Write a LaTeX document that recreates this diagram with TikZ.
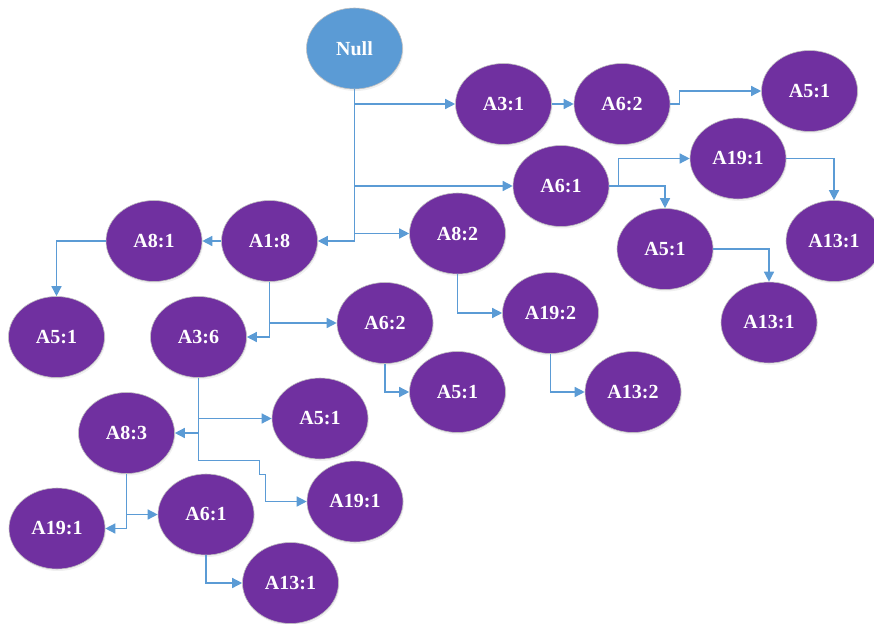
\documentclass[tikz,border=0pt]{standalone}
\usepackage{fontspec}
\setmainfont{Liberation Serif}
\usetikzlibrary{arrows.meta,shadows,shapes.geometric}

\definecolor{rootblue}{HTML}{5B9BD5}
\definecolor{itempurple}{HTML}{7030A0}

\begin{document}
\begin{tikzpicture}[x=1pt,y=-1pt]
        \tikzstyle{every node} = [ellipse, draw=black!25, line width=0.6pt, fill=itempurple, text=white,
            minimum width=96pt, minimum height=81pt, inner sep=0pt,
            font=\bfseries\fontsize{20}{24}\selectfont,
            drop shadow={opacity=0.12, shadow xshift=1pt, shadow yshift=-2pt}]
        \tikzstyle{link} = [draw=rootblue, line width=1.4pt, -{Triangle[length=10pt,width=10pt]}]
        \useasboundingbox (0,0) rectangle (874,623);
        \node[fill=rootblue] (null) at (354.5,48.5) {Null};
        \node (a31) at (503.5,104) {A3:1};
        \node (a62t) at (622,104) {A6:2};
        \node (a51t) at (809.5,91) {A5:1};
        \node (a61) at (561,186) {A6:1};
        \node (a191) at (738,158.5) {A19:1};
        \node (a131r) at (834,241) {A13:1};
        \node (a51m) at (665,249) {A5:1};
        \node (a131m) at (769,322.5) {A13:1};
        \node (a82) at (457.5,233.5) {A8:2};
        \node (a192) at (550.5,313) {A19:2};
        \node (a132) at (633,392) {A13:2};
        \node (a18) at (269.5,241) {A1:8};
        \node (a81) at (154,241) {A8:1};
        \node (a51l) at (56.5,337) {A5:1};
        \node (a36) at (198.5,337) {A3:6};
        \node (a62m) at (385,323) {A6:2};
        \node (a51c) at (457.5,392) {A5:1};
        \node (a51b) at (320,418.5) {A5:1};
        \node (a83) at (126.5,433) {A8:3};
        \node (a191b) at (355,501.5) {A19:1};
        \node (a191l) at (57,528.5) {A19:1};
        \node (a61b) at (206,514.5) {A6:1};
        \node (a131b) at (290.5,583) {A13:1};
        \foreach \from/\to in {a31/a62t, a18/a81}
            \draw[link] (\from) -- (\to);
        \foreach \from/\to in {null/a31, null/a61, null/a82, null/a18, a82/a192, a192/a132, a18/a36, a18/a62m,
                a62m/a51c, a36/a51b, a36/a83, a83/a191l, a83/a61b, a61b/a131b}
            \draw[link] (\from) |- (\to);
        \foreach \from/\to in {a61/a51m, a191/a131r, a51m/a131m, a81/a51l}
            \draw[link] (\from) -| (\to);
        \draw[link] (a62t.east) -- ++(9,0) |- (a51t.west);
        \draw[link] (a61.east) -- ++(9,0) |- (a191.west);
        \draw[link] (a36.south) -- ++(0,82.5) -- ++(61,0) -- ++(0,14) -- ++(6,0) |- (a191b.west);
    \end{tikzpicture}
\end{document}
